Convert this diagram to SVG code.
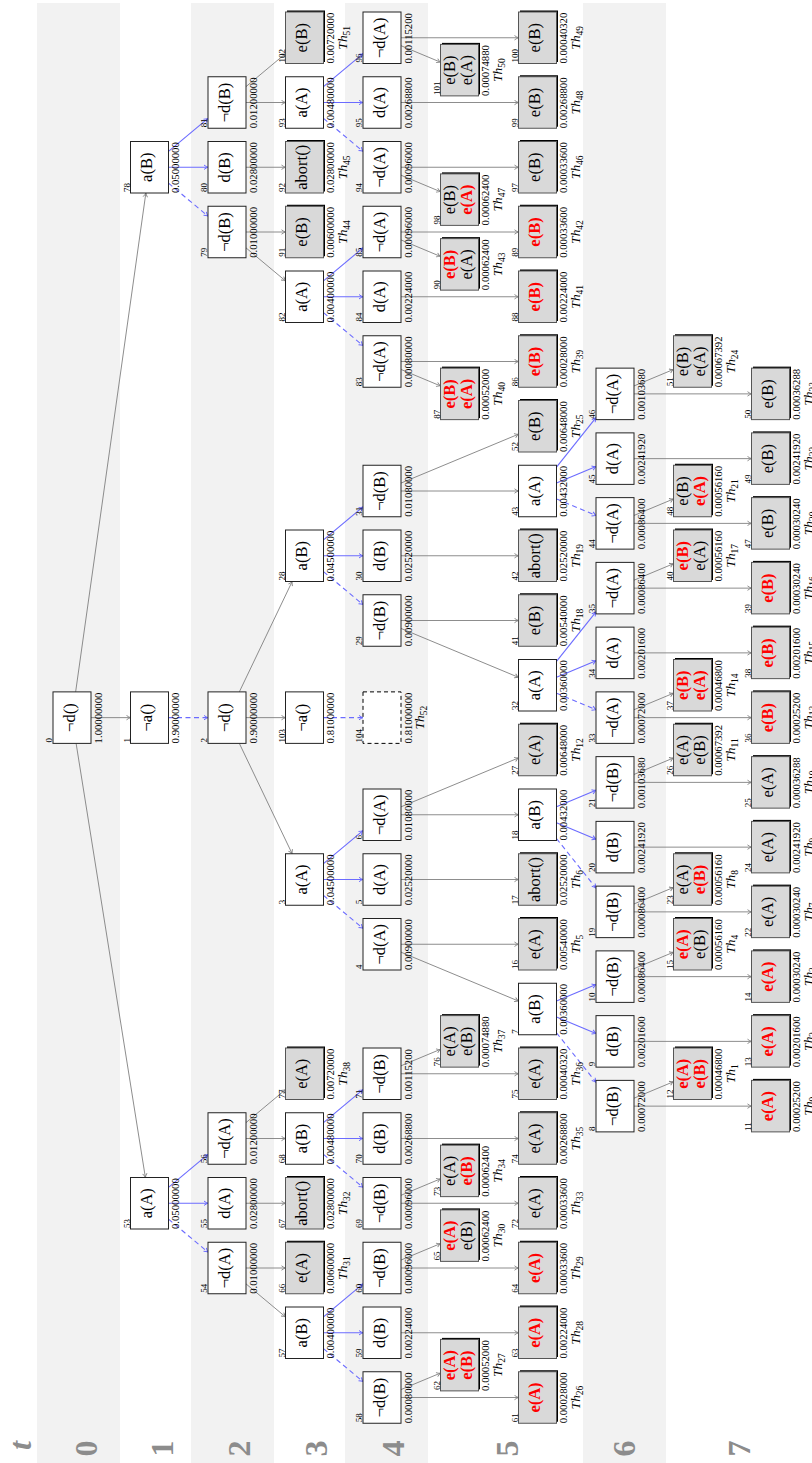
<svg xmlns="http://www.w3.org/2000/svg" width="812" height="1463" viewBox="0 0 812 1463">
<style>
.w{fill:#fff;stroke:#222;stroke-width:1}
.g{fill:#d9d9d9;stroke:#555;stroke-width:1}
.s{fill:#000}
.d{fill:#fff;stroke:#000;stroke-width:1;stroke-dasharray:4 3}
text{font-family:"Liberation Serif","Times New Roman",serif;fill:#000}
.lb{font-size:16.5px;text-anchor:middle}
.rd{fill:#f00;font-weight:bold}
.nm{font-size:9px}
.vl{font-size:10.7px}
.th{font-size:13.5px;font-style:italic;text-anchor:middle}
.sb{font-size:9.5px;font-style:normal}
.lv{font-size:32px;font-weight:bold;fill:#8c8c8c;text-anchor:middle}
.eg{stroke:#808080;stroke-width:0.9;fill:none;marker-end:url(#ag)}
.eb{stroke:#6b6bff;stroke-width:1.1;fill:none;marker-end:url(#ab)}
.ed{stroke-dasharray:5 3.5}
.band{fill:#f2f2f2}
</style>
<defs>
<marker id="ag" viewBox="-5 -3 6 6" refX="0" refY="0" markerWidth="6" markerHeight="6" markerUnits="userSpaceOnUse" orient="auto"><path d="M-4,-2.2 Q-1.5,-0.4 0,0 Q-1.5,0.4 -4,2.2" fill="none" stroke="#808080" stroke-width="0.9"/></marker>
<marker id="ab" viewBox="-5 -3 6 6" refX="0" refY="0" markerWidth="6" markerHeight="6" markerUnits="userSpaceOnUse" orient="auto"><path d="M-4,-2.2 Q-1.5,-0.4 0,0 Q-1.5,0.4 -4,2.2" fill="none" stroke="#6b6bff" stroke-width="1"/></marker>
</defs>
<rect width="812" height="1463" fill="#fff"/>
<g id="bands">
<rect class="band" x="37" y="3" width="83" height="1460"/>
<rect class="band" x="191" y="3" width="83" height="1460"/>
<rect class="band" x="345" y="3" width="83" height="1460"/>
<rect class="band" x="583" y="3" width="83" height="1460"/>
</g>
<g id="levels">
<text class="lv" font-style="italic" transform="translate(31,1445.5) rotate(-90)">t</text>
<text class="lv" transform="translate(96.5,1448.5) rotate(-90)">0</text>
<text class="lv" transform="translate(172.5,1448.5) rotate(-90)">1</text>
<text class="lv" transform="translate(250,1448.5) rotate(-90)">2</text>
<text class="lv" transform="translate(326.5,1448.5) rotate(-90)">3</text>
<text class="lv" transform="translate(403.5,1448.5) rotate(-90)">4</text>
<text class="lv" transform="translate(517.5,1448.5) rotate(-90)">5</text>
<text class="lv" transform="translate(634.5,1448.5) rotate(-90)">6</text>
<text class="lv" transform="translate(749.5,1448.5) rotate(-90)">7</text>
</g>
<g id="connectors">
<line class="eg" x1="75.63" y1="691.88" x2="145.87" y2="193"/>
<line class="eg" x1="91" y1="717.63" x2="130.5" y2="717.63"/>
<line class="eg" x1="76.11" y1="743.38" x2="145.39" y2="1177.5"/>
<line class="eg" x1="246" y1="86.63" x2="285.5" y2="53.62"/>
<line class="eg" x1="246" y1="102.5" x2="285.5" y2="102.5"/>
<line class="eg" x1="246" y1="167.25" x2="285.5" y2="167.25"/>
<line class="eg" x1="246" y1="232" x2="285.5" y2="232"/>
<line class="eg" x1="246" y1="247.87" x2="285.5" y2="280.88"/>
<line class="eg" x1="239.33" y1="691.88" x2="292.17" y2="581.5"/>
<line class="eg" x1="246" y1="717.63" x2="285.5" y2="717.63"/>
<line class="eg" x1="239.33" y1="743.38" x2="292.17" y2="853.75"/>
<line class="eg" x1="246" y1="1122.63" x2="285.5" y2="1089.62"/>
<line class="eg" x1="246" y1="1138.5" x2="285.5" y2="1138.5"/>
<line class="eg" x1="246" y1="1203.25" x2="285.5" y2="1203.25"/>
<line class="eg" x1="246" y1="1268" x2="285.5" y2="1268"/>
<line class="eg" x1="246" y1="1283.87" x2="285.5" y2="1316.88"/>
<line class="eg" x1="401" y1="37.75" x2="518.5" y2="37.75"/>
<line class="eg" x1="401" y1="45.69" x2="440.5" y2="62.19"/>
<line class="eg" x1="401" y1="102.5" x2="518.5" y2="102.5"/>
<line class="eg" x1="401" y1="167.25" x2="518.5" y2="167.25"/>
<line class="eg" x1="401" y1="175.19" x2="440.5" y2="191.69"/>
<line class="eg" x1="401" y1="232" x2="518.5" y2="232"/>
<line class="eg" x1="401" y1="239.94" x2="440.5" y2="256.44"/>
<line class="eg" x1="401" y1="296.75" x2="518.5" y2="296.75"/>
<line class="eg" x1="401" y1="361.5" x2="518.5" y2="361.5"/>
<line class="eg" x1="401" y1="369.44" x2="440.5" y2="385.94"/>
<line class="eg" x1="401" y1="483.09" x2="518.5" y2="434.16"/>
<line class="eg" x1="401" y1="491" x2="518.5" y2="491"/>
<line class="eg" x1="401" y1="555.75" x2="518.5" y2="555.75"/>
<line class="eg" x1="401" y1="620.5" x2="518.5" y2="620.5"/>
<line class="eg" x1="401" y1="628.41" x2="518.5" y2="677.34"/>
<line class="eg" x1="401" y1="806.84" x2="518.5" y2="757.91"/>
<line class="eg" x1="401" y1="814.75" x2="518.5" y2="814.75"/>
<line class="eg" x1="401" y1="879.5" x2="518.5" y2="879.5"/>
<line class="eg" x1="401" y1="944.25" x2="518.5" y2="944.25"/>
<line class="eg" x1="401" y1="952.16" x2="518.5" y2="1001.09"/>
<line class="eg" x1="401" y1="1073.75" x2="518.5" y2="1073.75"/>
<line class="eg" x1="401" y1="1065.81" x2="440.5" y2="1049.31"/>
<line class="eg" x1="401" y1="1138.5" x2="518.5" y2="1138.5"/>
<line class="eg" x1="401" y1="1203.25" x2="518.5" y2="1203.25"/>
<line class="eg" x1="401" y1="1195.31" x2="440.5" y2="1178.81"/>
<line class="eg" x1="401" y1="1268" x2="518.5" y2="1268"/>
<line class="eg" x1="401" y1="1260.06" x2="440.5" y2="1243.56"/>
<line class="eg" x1="401" y1="1332.75" x2="518.5" y2="1332.75"/>
<line class="eg" x1="401" y1="1397.5" x2="518.5" y2="1397.5"/>
<line class="eg" x1="401" y1="1389.56" x2="440.5" y2="1373.06"/>
<line class="eg" x1="634" y1="385.94" x2="673.5" y2="369.44"/>
<line class="eg" x1="634" y1="393.88" x2="751.5" y2="393.88"/>
<line class="eg" x1="634" y1="458.63" x2="751.5" y2="458.63"/>
<line class="eg" x1="634" y1="515.44" x2="673.5" y2="498.94"/>
<line class="eg" x1="634" y1="523.38" x2="751.5" y2="523.38"/>
<line class="eg" x1="634" y1="580.19" x2="673.5" y2="563.69"/>
<line class="eg" x1="634" y1="588.13" x2="751.5" y2="588.13"/>
<line class="eg" x1="634" y1="652.88" x2="751.5" y2="652.88"/>
<line class="eg" x1="634" y1="709.69" x2="673.5" y2="693.19"/>
<line class="eg" x1="634" y1="717.63" x2="751.5" y2="717.63"/>
<line class="eg" x1="634" y1="774.44" x2="673.5" y2="757.94"/>
<line class="eg" x1="634" y1="782.38" x2="751.5" y2="782.38"/>
<line class="eg" x1="634" y1="847.13" x2="751.5" y2="847.13"/>
<line class="eg" x1="634" y1="903.94" x2="673.5" y2="887.44"/>
<line class="eg" x1="634" y1="911.88" x2="751.5" y2="911.88"/>
<line class="eg" x1="634" y1="968.69" x2="673.5" y2="952.19"/>
<line class="eg" x1="634" y1="976.63" x2="751.5" y2="976.63"/>
<line class="eg" x1="634" y1="1041.38" x2="751.5" y2="1041.38"/>
<line class="eg" x1="634" y1="1098.19" x2="673.5" y2="1081.69"/>
<line class="eg" x1="634" y1="1106.13" x2="751.5" y2="1106.13"/>
<line class="eb" x1="168.5" y1="151.38" x2="208" y2="118.37"/>
<line class="eb" x1="168.5" y1="167.25" x2="208" y2="167.25"/>
<line class="eb" x1="168.5" y1="1187.38" x2="208" y2="1154.37"/>
<line class="eb" x1="168.5" y1="1203.25" x2="208" y2="1203.25"/>
<line class="eb" x1="323.5" y1="86.63" x2="363" y2="53.62"/>
<line class="eb" x1="323.5" y1="102.5" x2="363" y2="102.5"/>
<line class="eb" x1="323.5" y1="280.88" x2="363" y2="247.87"/>
<line class="eb" x1="323.5" y1="296.75" x2="363" y2="296.75"/>
<line class="eb" x1="323.5" y1="539.88" x2="363" y2="506.87"/>
<line class="eb" x1="323.5" y1="555.75" x2="363" y2="555.75"/>
<line class="eb" x1="323.5" y1="863.63" x2="363" y2="830.62"/>
<line class="eb" x1="323.5" y1="879.5" x2="363" y2="879.5"/>
<line class="eb" x1="323.5" y1="1122.63" x2="363" y2="1089.62"/>
<line class="eb" x1="323.5" y1="1138.5" x2="363" y2="1138.5"/>
<line class="eb" x1="323.5" y1="1316.88" x2="363" y2="1283.87"/>
<line class="eb" x1="323.5" y1="1332.75" x2="363" y2="1332.75"/>
<line class="eb" x1="556.5" y1="467.19" x2="596" y2="417.69"/>
<line class="eb" x1="556.5" y1="483.06" x2="596" y2="466.56"/>
<line class="eb" x1="556.5" y1="661.44" x2="596" y2="611.94"/>
<line class="eb" x1="556.5" y1="677.31" x2="596" y2="660.81"/>
<line class="eb" x1="556.5" y1="806.81" x2="596" y2="790.31"/>
<line class="eb" x1="556.5" y1="822.69" x2="596" y2="839.19"/>
<line class="eb" x1="556.5" y1="1001.06" x2="596" y2="984.56"/>
<line class="eb" x1="556.5" y1="1016.94" x2="596" y2="1033.44"/>
<line class="eb ed" x1="168.5" y1="717.63" x2="208" y2="717.63"/>
<line class="eb ed" x1="168.5" y1="183.12" x2="208" y2="216.13"/>
<line class="eb ed" x1="168.5" y1="1219.12" x2="208" y2="1252.13"/>
<line class="eb ed" x1="323.5" y1="118.37" x2="363" y2="151.38"/>
<line class="eb ed" x1="323.5" y1="312.62" x2="363" y2="345.63"/>
<line class="eb ed" x1="323.5" y1="571.62" x2="363" y2="604.63"/>
<line class="eb ed" x1="323.5" y1="717.63" x2="363" y2="717.63"/>
<line class="eb ed" x1="323.5" y1="895.37" x2="363" y2="928.38"/>
<line class="eb ed" x1="323.5" y1="1154.37" x2="363" y2="1187.38"/>
<line class="eb ed" x1="323.5" y1="1348.62" x2="363" y2="1381.63"/>
<line class="eb ed" x1="556.5" y1="498.94" x2="596" y2="515.44"/>
<line class="eb ed" x1="556.5" y1="693.19" x2="596" y2="709.69"/>
<line class="eb ed" x1="556.5" y1="838.56" x2="596" y2="888.06"/>
<line class="eb ed" x1="556.5" y1="1032.81" x2="596" y2="1082.31"/>
</g>
<g id="nodes">
<g id="n0"><rect class="w" x="53" y="691.88" width="38" height="51.5"/><text class="lb" transform="translate(74.5,717.63) rotate(-90)">¬d()</text><text class="nm" transform="translate(52,742.38) rotate(-90)">0</text><text class="vl" transform="translate(101.5,743.38) rotate(-90)">1.00000000</text></g>
<g id="n78"><rect class="w" x="130.5" y="141.5" width="38" height="51.5"/><text class="lb" transform="translate(152,167.25) rotate(-90)">a(B)</text><text class="nm" transform="translate(129.5,192) rotate(-90)">78</text><text class="vl" transform="translate(179,193) rotate(-90)">0.05000000</text></g>
<g id="n1"><rect class="w" x="130.5" y="691.88" width="38" height="51.5"/><text class="lb" transform="translate(152,717.63) rotate(-90)">¬a()</text><text class="nm" transform="translate(129.5,742.38) rotate(-90)">1</text><text class="vl" transform="translate(179,743.38) rotate(-90)">0.90000000</text></g>
<g id="n53"><rect class="w" x="130.5" y="1177.5" width="38" height="51.5"/><text class="lb" transform="translate(152,1203.25) rotate(-90)">a(A)</text><text class="nm" transform="translate(129.5,1228) rotate(-90)">53</text><text class="vl" transform="translate(179,1229) rotate(-90)">0.05000000</text></g>
<g id="n81"><rect class="w" x="208" y="76.75" width="38" height="51.5"/><text class="lb" transform="translate(229.5,102.5) rotate(-90)">¬d(B)</text><text class="nm" transform="translate(207,127.25) rotate(-90)">81</text><text class="vl" transform="translate(256.5,128.25) rotate(-90)">0.01200000</text></g>
<g id="n80"><rect class="w" x="208" y="141.5" width="38" height="51.5"/><text class="lb" transform="translate(229.5,167.25) rotate(-90)">d(B)</text><text class="nm" transform="translate(207,192) rotate(-90)">80</text><text class="vl" transform="translate(256.5,193) rotate(-90)">0.02800000</text></g>
<g id="n79"><rect class="w" x="208" y="206.25" width="38" height="51.5"/><text class="lb" transform="translate(229.5,232) rotate(-90)">¬d(B)</text><text class="nm" transform="translate(207,256.75) rotate(-90)">79</text><text class="vl" transform="translate(256.5,257.75) rotate(-90)">0.01000000</text></g>
<g id="n2"><rect class="w" x="208" y="691.88" width="38" height="51.5"/><text class="lb" transform="translate(229.5,717.63) rotate(-90)">¬d()</text><text class="nm" transform="translate(207,742.38) rotate(-90)">2</text><text class="vl" transform="translate(256.5,743.38) rotate(-90)">0.90000000</text></g>
<g id="n56"><rect class="w" x="208" y="1112.75" width="38" height="51.5"/><text class="lb" transform="translate(229.5,1138.5) rotate(-90)">¬d(A)</text><text class="nm" transform="translate(207,1163.25) rotate(-90)">56</text><text class="vl" transform="translate(256.5,1164.25) rotate(-90)">0.01200000</text></g>
<g id="n55"><rect class="w" x="208" y="1177.5" width="38" height="51.5"/><text class="lb" transform="translate(229.5,1203.25) rotate(-90)">d(A)</text><text class="nm" transform="translate(207,1228) rotate(-90)">55</text><text class="vl" transform="translate(256.5,1229) rotate(-90)">0.02800000</text></g>
<g id="n54"><rect class="w" x="208" y="1242.25" width="38" height="51.5"/><text class="lb" transform="translate(229.5,1268) rotate(-90)">¬d(A)</text><text class="nm" transform="translate(207,1292.75) rotate(-90)">54</text><text class="vl" transform="translate(256.5,1293.75) rotate(-90)">0.01000000</text></g>
<g id="n102"><rect class="s" x="287" y="10.5" width="38" height="51.5"/><rect class="g" x="285.5" y="12" width="38" height="51.5"/><text class="lb" transform="translate(307,37.75) rotate(-90)">e(B)</text><text class="nm" transform="translate(284.5,62.5) rotate(-90)">102</text><text class="vl" transform="translate(334,63.5) rotate(-90)">0.00720000</text><text class="th" transform="translate(346.5,37.75) rotate(-90)">Th<tspan class="sb" dy="3">51</tspan></text></g>
<g id="n93"><rect class="w" x="285.5" y="76.75" width="38" height="51.5"/><text class="lb" transform="translate(307,102.5) rotate(-90)">a(A)</text><text class="nm" transform="translate(284.5,127.25) rotate(-90)">93</text><text class="vl" transform="translate(334,128.25) rotate(-90)">0.00480000</text></g>
<g id="n92"><rect class="s" x="287" y="140" width="38" height="51.5"/><rect class="g" x="285.5" y="141.5" width="38" height="51.5"/><text class="lb" transform="translate(307,167.25) rotate(-90)">abort()</text><text class="nm" transform="translate(284.5,192) rotate(-90)">92</text><text class="vl" transform="translate(334,193) rotate(-90)">0.02800000</text><text class="th" transform="translate(346.5,167.25) rotate(-90)">Th<tspan class="sb" dy="3">45</tspan></text></g>
<g id="n91"><rect class="s" x="287" y="204.75" width="38" height="51.5"/><rect class="g" x="285.5" y="206.25" width="38" height="51.5"/><text class="lb" transform="translate(307,232) rotate(-90)">e(B)</text><text class="nm" transform="translate(284.5,256.75) rotate(-90)">91</text><text class="vl" transform="translate(334,257.75) rotate(-90)">0.00600000</text><text class="th" transform="translate(346.5,232) rotate(-90)">Th<tspan class="sb" dy="3">44</tspan></text></g>
<g id="n82"><rect class="w" x="285.5" y="271" width="38" height="51.5"/><text class="lb" transform="translate(307,296.75) rotate(-90)">a(A)</text><text class="nm" transform="translate(284.5,321.5) rotate(-90)">82</text><text class="vl" transform="translate(334,322.5) rotate(-90)">0.00400000</text></g>
<g id="n28"><rect class="w" x="285.5" y="530" width="38" height="51.5"/><text class="lb" transform="translate(307,555.75) rotate(-90)">a(B)</text><text class="nm" transform="translate(284.5,580.5) rotate(-90)">28</text><text class="vl" transform="translate(334,581.5) rotate(-90)">0.04500000</text></g>
<g id="n103"><rect class="w" x="285.5" y="691.88" width="38" height="51.5"/><text class="lb" transform="translate(307,717.63) rotate(-90)">¬a()</text><text class="nm" transform="translate(284.5,742.38) rotate(-90)">103</text><text class="vl" transform="translate(334,743.38) rotate(-90)">0.81000000</text></g>
<g id="n3"><rect class="w" x="285.5" y="853.75" width="38" height="51.5"/><text class="lb" transform="translate(307,879.5) rotate(-90)">a(A)</text><text class="nm" transform="translate(284.5,904.25) rotate(-90)">3</text><text class="vl" transform="translate(334,905.25) rotate(-90)">0.04500000</text></g>
<g id="n77"><rect class="s" x="287" y="1046.5" width="38" height="51.5"/><rect class="g" x="285.5" y="1048" width="38" height="51.5"/><text class="lb" transform="translate(307,1073.75) rotate(-90)">e(A)</text><text class="nm" transform="translate(284.5,1098.5) rotate(-90)">77</text><text class="vl" transform="translate(334,1099.5) rotate(-90)">0.00720000</text><text class="th" transform="translate(346.5,1073.75) rotate(-90)">Th<tspan class="sb" dy="3">38</tspan></text></g>
<g id="n68"><rect class="w" x="285.5" y="1112.75" width="38" height="51.5"/><text class="lb" transform="translate(307,1138.5) rotate(-90)">a(B)</text><text class="nm" transform="translate(284.5,1163.25) rotate(-90)">68</text><text class="vl" transform="translate(334,1164.25) rotate(-90)">0.00480000</text></g>
<g id="n67"><rect class="s" x="287" y="1176" width="38" height="51.5"/><rect class="g" x="285.5" y="1177.5" width="38" height="51.5"/><text class="lb" transform="translate(307,1203.25) rotate(-90)">abort()</text><text class="nm" transform="translate(284.5,1228) rotate(-90)">67</text><text class="vl" transform="translate(334,1229) rotate(-90)">0.02800000</text><text class="th" transform="translate(346.5,1203.25) rotate(-90)">Th<tspan class="sb" dy="3">32</tspan></text></g>
<g id="n66"><rect class="s" x="287" y="1240.75" width="38" height="51.5"/><rect class="g" x="285.5" y="1242.25" width="38" height="51.5"/><text class="lb" transform="translate(307,1268) rotate(-90)">e(A)</text><text class="nm" transform="translate(284.5,1292.75) rotate(-90)">66</text><text class="vl" transform="translate(334,1293.75) rotate(-90)">0.00600000</text><text class="th" transform="translate(346.5,1268) rotate(-90)">Th<tspan class="sb" dy="3">31</tspan></text></g>
<g id="n57"><rect class="w" x="285.5" y="1307" width="38" height="51.5"/><text class="lb" transform="translate(307,1332.75) rotate(-90)">a(B)</text><text class="nm" transform="translate(284.5,1357.5) rotate(-90)">57</text><text class="vl" transform="translate(334,1358.5) rotate(-90)">0.00400000</text></g>
<g id="n96"><rect class="w" x="363" y="12" width="38" height="51.5"/><text class="lb" transform="translate(384.5,37.75) rotate(-90)">¬d(A)</text><text class="nm" transform="translate(362,62.5) rotate(-90)">96</text><text class="vl" transform="translate(411.5,63.5) rotate(-90)">0.00115200</text></g>
<g id="n95"><rect class="w" x="363" y="76.75" width="38" height="51.5"/><text class="lb" transform="translate(384.5,102.5) rotate(-90)">d(A)</text><text class="nm" transform="translate(362,127.25) rotate(-90)">95</text><text class="vl" transform="translate(411.5,128.25) rotate(-90)">0.00268800</text></g>
<g id="n94"><rect class="w" x="363" y="141.5" width="38" height="51.5"/><text class="lb" transform="translate(384.5,167.25) rotate(-90)">¬d(A)</text><text class="nm" transform="translate(362,192) rotate(-90)">94</text><text class="vl" transform="translate(411.5,193) rotate(-90)">0.00096000</text></g>
<g id="n85"><rect class="w" x="363" y="206.25" width="38" height="51.5"/><text class="lb" transform="translate(384.5,232) rotate(-90)">¬d(A)</text><text class="nm" transform="translate(362,256.75) rotate(-90)">85</text><text class="vl" transform="translate(411.5,257.75) rotate(-90)">0.00096000</text></g>
<g id="n84"><rect class="w" x="363" y="271" width="38" height="51.5"/><text class="lb" transform="translate(384.5,296.75) rotate(-90)">d(A)</text><text class="nm" transform="translate(362,321.5) rotate(-90)">84</text><text class="vl" transform="translate(411.5,322.5) rotate(-90)">0.00224000</text></g>
<g id="n83"><rect class="w" x="363" y="335.75" width="38" height="51.5"/><text class="lb" transform="translate(384.5,361.5) rotate(-90)">¬d(A)</text><text class="nm" transform="translate(362,386.25) rotate(-90)">83</text><text class="vl" transform="translate(411.5,387.25) rotate(-90)">0.00080000</text></g>
<g id="n31"><rect class="w" x="363" y="465.25" width="38" height="51.5"/><text class="lb" transform="translate(384.5,491) rotate(-90)">¬d(B)</text><text class="nm" transform="translate(362,515.75) rotate(-90)">31</text><text class="vl" transform="translate(411.5,516.75) rotate(-90)">0.01080000</text></g>
<g id="n30"><rect class="w" x="363" y="530" width="38" height="51.5"/><text class="lb" transform="translate(384.5,555.75) rotate(-90)">d(B)</text><text class="nm" transform="translate(362,580.5) rotate(-90)">30</text><text class="vl" transform="translate(411.5,581.5) rotate(-90)">0.02520000</text></g>
<g id="n29"><rect class="w" x="363" y="594.75" width="38" height="51.5"/><text class="lb" transform="translate(384.5,620.5) rotate(-90)">¬d(B)</text><text class="nm" transform="translate(362,645.25) rotate(-90)">29</text><text class="vl" transform="translate(411.5,646.25) rotate(-90)">0.00900000</text></g>
<g id="n104"><rect class="d" x="363" y="691.88" width="38" height="51.5"/><text class="nm" transform="translate(362,742.38) rotate(-90)">104</text><text class="vl" transform="translate(411.5,743.38) rotate(-90)">0.81000000</text><text class="th" transform="translate(424,717.63) rotate(-90)">Th<tspan class="sb" dy="3">52</tspan></text></g>
<g id="n6"><rect class="w" x="363" y="789" width="38" height="51.5"/><text class="lb" transform="translate(384.5,814.75) rotate(-90)">¬d(A)</text><text class="nm" transform="translate(362,839.5) rotate(-90)">6</text><text class="vl" transform="translate(411.5,840.5) rotate(-90)">0.01080000</text></g>
<g id="n5"><rect class="w" x="363" y="853.75" width="38" height="51.5"/><text class="lb" transform="translate(384.5,879.5) rotate(-90)">d(A)</text><text class="nm" transform="translate(362,904.25) rotate(-90)">5</text><text class="vl" transform="translate(411.5,905.25) rotate(-90)">0.02520000</text></g>
<g id="n4"><rect class="w" x="363" y="918.5" width="38" height="51.5"/><text class="lb" transform="translate(384.5,944.25) rotate(-90)">¬d(A)</text><text class="nm" transform="translate(362,969) rotate(-90)">4</text><text class="vl" transform="translate(411.5,970) rotate(-90)">0.00900000</text></g>
<g id="n71"><rect class="w" x="363" y="1048" width="38" height="51.5"/><text class="lb" transform="translate(384.5,1073.75) rotate(-90)">¬d(B)</text><text class="nm" transform="translate(362,1098.5) rotate(-90)">71</text><text class="vl" transform="translate(411.5,1099.5) rotate(-90)">0.00115200</text></g>
<g id="n70"><rect class="w" x="363" y="1112.75" width="38" height="51.5"/><text class="lb" transform="translate(384.5,1138.5) rotate(-90)">d(B)</text><text class="nm" transform="translate(362,1163.25) rotate(-90)">70</text><text class="vl" transform="translate(411.5,1164.25) rotate(-90)">0.00268800</text></g>
<g id="n69"><rect class="w" x="363" y="1177.5" width="38" height="51.5"/><text class="lb" transform="translate(384.5,1203.25) rotate(-90)">¬d(B)</text><text class="nm" transform="translate(362,1228) rotate(-90)">69</text><text class="vl" transform="translate(411.5,1229) rotate(-90)">0.00096000</text></g>
<g id="n60"><rect class="w" x="363" y="1242.25" width="38" height="51.5"/><text class="lb" transform="translate(384.5,1268) rotate(-90)">¬d(B)</text><text class="nm" transform="translate(362,1292.75) rotate(-90)">60</text><text class="vl" transform="translate(411.5,1293.75) rotate(-90)">0.00096000</text></g>
<g id="n59"><rect class="w" x="363" y="1307" width="38" height="51.5"/><text class="lb" transform="translate(384.5,1332.75) rotate(-90)">d(B)</text><text class="nm" transform="translate(362,1357.5) rotate(-90)">59</text><text class="vl" transform="translate(411.5,1358.5) rotate(-90)">0.00224000</text></g>
<g id="n58"><rect class="w" x="363" y="1371.75" width="38" height="51.5"/><text class="lb" transform="translate(384.5,1397.5) rotate(-90)">¬d(B)</text><text class="nm" transform="translate(362,1422.25) rotate(-90)">58</text><text class="vl" transform="translate(411.5,1423.25) rotate(-90)">0.00080000</text></g>
<g id="n101"><rect class="s" x="442" y="42.88" width="38" height="51.5"/><rect class="g" x="440.5" y="44.38" width="38" height="51.5"/><text class="lb" transform="translate(455,70.13) rotate(-90)">e(B)</text><text class="lb" transform="translate(471.5,70.13) rotate(-90)">e(A)</text><text class="nm" transform="translate(439.5,94.88) rotate(-90)">101</text><text class="vl" transform="translate(489,95.88) rotate(-90)">0.00074880</text><text class="th" transform="translate(501.5,70.13) rotate(-90)">Th<tspan class="sb" dy="3">50</tspan></text></g>
<g id="n98"><rect class="s" x="442" y="172.38" width="38" height="51.5"/><rect class="g" x="440.5" y="173.88" width="38" height="51.5"/><text class="lb" transform="translate(455,199.63) rotate(-90)">e(B)</text><text class="lb rd" transform="translate(471.5,199.63) rotate(-90)">e(A)</text><text class="nm" transform="translate(439.5,224.38) rotate(-90)">98</text><text class="vl" transform="translate(489,225.38) rotate(-90)">0.00062400</text><text class="th" transform="translate(501.5,199.63) rotate(-90)">Th<tspan class="sb" dy="3">47</tspan></text></g>
<g id="n90"><rect class="s" x="442" y="237.13" width="38" height="51.5"/><rect class="g" x="440.5" y="238.63" width="38" height="51.5"/><text class="lb rd" transform="translate(455,264.38) rotate(-90)">e(B)</text><text class="lb" transform="translate(471.5,264.38) rotate(-90)">e(A)</text><text class="nm" transform="translate(439.5,289.13) rotate(-90)">90</text><text class="vl" transform="translate(489,290.13) rotate(-90)">0.00062400</text><text class="th" transform="translate(501.5,264.38) rotate(-90)">Th<tspan class="sb" dy="3">43</tspan></text></g>
<g id="n87"><rect class="s" x="442" y="366.63" width="38" height="51.5"/><rect class="g" x="440.5" y="368.13" width="38" height="51.5"/><text class="lb rd" transform="translate(455,393.88) rotate(-90)">e(B)</text><text class="lb rd" transform="translate(471.5,393.88) rotate(-90)">e(A)</text><text class="nm" transform="translate(439.5,418.63) rotate(-90)">87</text><text class="vl" transform="translate(489,419.63) rotate(-90)">0.00052000</text><text class="th" transform="translate(501.5,393.88) rotate(-90)">Th<tspan class="sb" dy="3">40</tspan></text></g>
<g id="n76"><rect class="s" x="442" y="1014.13" width="38" height="51.5"/><rect class="g" x="440.5" y="1015.63" width="38" height="51.5"/><text class="lb" transform="translate(455,1041.38) rotate(-90)">e(A)</text><text class="lb" transform="translate(471.5,1041.38) rotate(-90)">e(B)</text><text class="nm" transform="translate(439.5,1066.13) rotate(-90)">76</text><text class="vl" transform="translate(489,1067.13) rotate(-90)">0.00074880</text><text class="th" transform="translate(501.5,1041.38) rotate(-90)">Th<tspan class="sb" dy="3">37</tspan></text></g>
<g id="n73"><rect class="s" x="442" y="1143.63" width="38" height="51.5"/><rect class="g" x="440.5" y="1145.13" width="38" height="51.5"/><text class="lb" transform="translate(455,1170.88) rotate(-90)">e(A)</text><text class="lb rd" transform="translate(471.5,1170.88) rotate(-90)">e(B)</text><text class="nm" transform="translate(439.5,1195.63) rotate(-90)">73</text><text class="vl" transform="translate(489,1196.63) rotate(-90)">0.00062400</text><text class="th" transform="translate(501.5,1170.88) rotate(-90)">Th<tspan class="sb" dy="3">34</tspan></text></g>
<g id="n65"><rect class="s" x="442" y="1208.38" width="38" height="51.5"/><rect class="g" x="440.5" y="1209.88" width="38" height="51.5"/><text class="lb rd" transform="translate(455,1235.63) rotate(-90)">e(A)</text><text class="lb" transform="translate(471.5,1235.63) rotate(-90)">e(B)</text><text class="nm" transform="translate(439.5,1260.38) rotate(-90)">65</text><text class="vl" transform="translate(489,1261.38) rotate(-90)">0.00062400</text><text class="th" transform="translate(501.5,1235.63) rotate(-90)">Th<tspan class="sb" dy="3">30</tspan></text></g>
<g id="n62"><rect class="s" x="442" y="1337.88" width="38" height="51.5"/><rect class="g" x="440.5" y="1339.38" width="38" height="51.5"/><text class="lb rd" transform="translate(455,1365.13) rotate(-90)">e(A)</text><text class="lb rd" transform="translate(471.5,1365.13) rotate(-90)">e(B)</text><text class="nm" transform="translate(439.5,1389.88) rotate(-90)">62</text><text class="vl" transform="translate(489,1390.88) rotate(-90)">0.00052000</text><text class="th" transform="translate(501.5,1365.13) rotate(-90)">Th<tspan class="sb" dy="3">27</tspan></text></g>
<g id="n100"><rect class="s" x="520" y="10.5" width="38" height="51.5"/><rect class="g" x="518.5" y="12" width="38" height="51.5"/><text class="lb" transform="translate(540,37.75) rotate(-90)">e(B)</text><text class="nm" transform="translate(517.5,62.5) rotate(-90)">100</text><text class="vl" transform="translate(567,63.5) rotate(-90)">0.00040320</text><text class="th" transform="translate(579.5,37.75) rotate(-90)">Th<tspan class="sb" dy="3">49</tspan></text></g>
<g id="n99"><rect class="s" x="520" y="75.25" width="38" height="51.5"/><rect class="g" x="518.5" y="76.75" width="38" height="51.5"/><text class="lb" transform="translate(540,102.5) rotate(-90)">e(B)</text><text class="nm" transform="translate(517.5,127.25) rotate(-90)">99</text><text class="vl" transform="translate(567,128.25) rotate(-90)">0.00268800</text><text class="th" transform="translate(579.5,102.5) rotate(-90)">Th<tspan class="sb" dy="3">48</tspan></text></g>
<g id="n97"><rect class="s" x="520" y="140" width="38" height="51.5"/><rect class="g" x="518.5" y="141.5" width="38" height="51.5"/><text class="lb" transform="translate(540,167.25) rotate(-90)">e(B)</text><text class="nm" transform="translate(517.5,192) rotate(-90)">97</text><text class="vl" transform="translate(567,193) rotate(-90)">0.00033600</text><text class="th" transform="translate(579.5,167.25) rotate(-90)">Th<tspan class="sb" dy="3">46</tspan></text></g>
<g id="n89"><rect class="s" x="520" y="204.75" width="38" height="51.5"/><rect class="g" x="518.5" y="206.25" width="38" height="51.5"/><text class="lb rd" transform="translate(540,232) rotate(-90)">e(B)</text><text class="nm" transform="translate(517.5,256.75) rotate(-90)">89</text><text class="vl" transform="translate(567,257.75) rotate(-90)">0.00033600</text><text class="th" transform="translate(579.5,232) rotate(-90)">Th<tspan class="sb" dy="3">42</tspan></text></g>
<g id="n88"><rect class="s" x="520" y="269.5" width="38" height="51.5"/><rect class="g" x="518.5" y="271" width="38" height="51.5"/><text class="lb rd" transform="translate(540,296.75) rotate(-90)">e(B)</text><text class="nm" transform="translate(517.5,321.5) rotate(-90)">88</text><text class="vl" transform="translate(567,322.5) rotate(-90)">0.00224000</text><text class="th" transform="translate(579.5,296.75) rotate(-90)">Th<tspan class="sb" dy="3">41</tspan></text></g>
<g id="n86"><rect class="s" x="520" y="334.25" width="38" height="51.5"/><rect class="g" x="518.5" y="335.75" width="38" height="51.5"/><text class="lb rd" transform="translate(540,361.5) rotate(-90)">e(B)</text><text class="nm" transform="translate(517.5,386.25) rotate(-90)">86</text><text class="vl" transform="translate(567,387.25) rotate(-90)">0.00028000</text><text class="th" transform="translate(579.5,361.5) rotate(-90)">Th<tspan class="sb" dy="3">39</tspan></text></g>
<g id="n52"><rect class="s" x="520" y="399" width="38" height="51.5"/><rect class="g" x="518.5" y="400.5" width="38" height="51.5"/><text class="lb" transform="translate(540,426.25) rotate(-90)">e(B)</text><text class="nm" transform="translate(517.5,451) rotate(-90)">52</text><text class="vl" transform="translate(567,452) rotate(-90)">0.00648000</text><text class="th" transform="translate(579.5,426.25) rotate(-90)">Th<tspan class="sb" dy="3">25</tspan></text></g>
<g id="n43"><rect class="w" x="518.5" y="465.25" width="38" height="51.5"/><text class="lb" transform="translate(540,491) rotate(-90)">a(A)</text><text class="nm" transform="translate(517.5,515.75) rotate(-90)">43</text><text class="vl" transform="translate(567,516.75) rotate(-90)">0.00432000</text></g>
<g id="n42"><rect class="s" x="520" y="528.5" width="38" height="51.5"/><rect class="g" x="518.5" y="530" width="38" height="51.5"/><text class="lb" transform="translate(540,555.75) rotate(-90)">abort()</text><text class="nm" transform="translate(517.5,580.5) rotate(-90)">42</text><text class="vl" transform="translate(567,581.5) rotate(-90)">0.02520000</text><text class="th" transform="translate(579.5,555.75) rotate(-90)">Th<tspan class="sb" dy="3">19</tspan></text></g>
<g id="n41"><rect class="s" x="520" y="593.25" width="38" height="51.5"/><rect class="g" x="518.5" y="594.75" width="38" height="51.5"/><text class="lb" transform="translate(540,620.5) rotate(-90)">e(B)</text><text class="nm" transform="translate(517.5,645.25) rotate(-90)">41</text><text class="vl" transform="translate(567,646.25) rotate(-90)">0.00540000</text><text class="th" transform="translate(579.5,620.5) rotate(-90)">Th<tspan class="sb" dy="3">18</tspan></text></g>
<g id="n32"><rect class="w" x="518.5" y="659.5" width="38" height="51.5"/><text class="lb" transform="translate(540,685.25) rotate(-90)">a(A)</text><text class="nm" transform="translate(517.5,710) rotate(-90)">32</text><text class="vl" transform="translate(567,711) rotate(-90)">0.00360000</text></g>
<g id="n27"><rect class="s" x="520" y="722.75" width="38" height="51.5"/><rect class="g" x="518.5" y="724.25" width="38" height="51.5"/><text class="lb" transform="translate(540,750) rotate(-90)">e(A)</text><text class="nm" transform="translate(517.5,774.75) rotate(-90)">27</text><text class="vl" transform="translate(567,775.75) rotate(-90)">0.00648000</text><text class="th" transform="translate(579.5,750) rotate(-90)">Th<tspan class="sb" dy="3">12</tspan></text></g>
<g id="n18"><rect class="w" x="518.5" y="789" width="38" height="51.5"/><text class="lb" transform="translate(540,814.75) rotate(-90)">a(B)</text><text class="nm" transform="translate(517.5,839.5) rotate(-90)">18</text><text class="vl" transform="translate(567,840.5) rotate(-90)">0.00432000</text></g>
<g id="n17"><rect class="s" x="520" y="852.25" width="38" height="51.5"/><rect class="g" x="518.5" y="853.75" width="38" height="51.5"/><text class="lb" transform="translate(540,879.5) rotate(-90)">abort()</text><text class="nm" transform="translate(517.5,904.25) rotate(-90)">17</text><text class="vl" transform="translate(567,905.25) rotate(-90)">0.02520000</text><text class="th" transform="translate(579.5,879.5) rotate(-90)">Th<tspan class="sb" dy="3">6</tspan></text></g>
<g id="n16"><rect class="s" x="520" y="917" width="38" height="51.5"/><rect class="g" x="518.5" y="918.5" width="38" height="51.5"/><text class="lb" transform="translate(540,944.25) rotate(-90)">e(A)</text><text class="nm" transform="translate(517.5,969) rotate(-90)">16</text><text class="vl" transform="translate(567,970) rotate(-90)">0.00540000</text><text class="th" transform="translate(579.5,944.25) rotate(-90)">Th<tspan class="sb" dy="3">5</tspan></text></g>
<g id="n7"><rect class="w" x="518.5" y="983.25" width="38" height="51.5"/><text class="lb" transform="translate(540,1009) rotate(-90)">a(B)</text><text class="nm" transform="translate(517.5,1033.75) rotate(-90)">7</text><text class="vl" transform="translate(567,1034.75) rotate(-90)">0.00360000</text></g>
<g id="n75"><rect class="s" x="520" y="1046.5" width="38" height="51.5"/><rect class="g" x="518.5" y="1048" width="38" height="51.5"/><text class="lb" transform="translate(540,1073.75) rotate(-90)">e(A)</text><text class="nm" transform="translate(517.5,1098.5) rotate(-90)">75</text><text class="vl" transform="translate(567,1099.5) rotate(-90)">0.00040320</text><text class="th" transform="translate(579.5,1073.75) rotate(-90)">Th<tspan class="sb" dy="3">36</tspan></text></g>
<g id="n74"><rect class="s" x="520" y="1111.25" width="38" height="51.5"/><rect class="g" x="518.5" y="1112.75" width="38" height="51.5"/><text class="lb" transform="translate(540,1138.5) rotate(-90)">e(A)</text><text class="nm" transform="translate(517.5,1163.25) rotate(-90)">74</text><text class="vl" transform="translate(567,1164.25) rotate(-90)">0.00268800</text><text class="th" transform="translate(579.5,1138.5) rotate(-90)">Th<tspan class="sb" dy="3">35</tspan></text></g>
<g id="n72"><rect class="s" x="520" y="1176" width="38" height="51.5"/><rect class="g" x="518.5" y="1177.5" width="38" height="51.5"/><text class="lb" transform="translate(540,1203.25) rotate(-90)">e(A)</text><text class="nm" transform="translate(517.5,1228) rotate(-90)">72</text><text class="vl" transform="translate(567,1229) rotate(-90)">0.00033600</text><text class="th" transform="translate(579.5,1203.25) rotate(-90)">Th<tspan class="sb" dy="3">33</tspan></text></g>
<g id="n64"><rect class="s" x="520" y="1240.75" width="38" height="51.5"/><rect class="g" x="518.5" y="1242.25" width="38" height="51.5"/><text class="lb rd" transform="translate(540,1268) rotate(-90)">e(A)</text><text class="nm" transform="translate(517.5,1292.75) rotate(-90)">64</text><text class="vl" transform="translate(567,1293.75) rotate(-90)">0.00033600</text><text class="th" transform="translate(579.5,1268) rotate(-90)">Th<tspan class="sb" dy="3">29</tspan></text></g>
<g id="n63"><rect class="s" x="520" y="1305.5" width="38" height="51.5"/><rect class="g" x="518.5" y="1307" width="38" height="51.5"/><text class="lb rd" transform="translate(540,1332.75) rotate(-90)">e(A)</text><text class="nm" transform="translate(517.5,1357.5) rotate(-90)">63</text><text class="vl" transform="translate(567,1358.5) rotate(-90)">0.00224000</text><text class="th" transform="translate(579.5,1332.75) rotate(-90)">Th<tspan class="sb" dy="3">28</tspan></text></g>
<g id="n61"><rect class="s" x="520" y="1370.25" width="38" height="51.5"/><rect class="g" x="518.5" y="1371.75" width="38" height="51.5"/><text class="lb rd" transform="translate(540,1397.5) rotate(-90)">e(A)</text><text class="nm" transform="translate(517.5,1422.25) rotate(-90)">61</text><text class="vl" transform="translate(567,1423.25) rotate(-90)">0.00028000</text><text class="th" transform="translate(579.5,1397.5) rotate(-90)">Th<tspan class="sb" dy="3">26</tspan></text></g>
<g id="n46"><rect class="w" x="596" y="368.13" width="38" height="51.5"/><text class="lb" transform="translate(617.5,393.88) rotate(-90)">¬d(A)</text><text class="nm" transform="translate(595,418.63) rotate(-90)">46</text><text class="vl" transform="translate(644.5,419.63) rotate(-90)">0.00103680</text></g>
<g id="n45"><rect class="w" x="596" y="432.88" width="38" height="51.5"/><text class="lb" transform="translate(617.5,458.63) rotate(-90)">d(A)</text><text class="nm" transform="translate(595,483.38) rotate(-90)">45</text><text class="vl" transform="translate(644.5,484.38) rotate(-90)">0.00241920</text></g>
<g id="n44"><rect class="w" x="596" y="497.63" width="38" height="51.5"/><text class="lb" transform="translate(617.5,523.38) rotate(-90)">¬d(A)</text><text class="nm" transform="translate(595,548.13) rotate(-90)">44</text><text class="vl" transform="translate(644.5,549.13) rotate(-90)">0.00086400</text></g>
<g id="n35"><rect class="w" x="596" y="562.38" width="38" height="51.5"/><text class="lb" transform="translate(617.5,588.13) rotate(-90)">¬d(A)</text><text class="nm" transform="translate(595,612.88) rotate(-90)">35</text><text class="vl" transform="translate(644.5,613.88) rotate(-90)">0.00086400</text></g>
<g id="n34"><rect class="w" x="596" y="627.13" width="38" height="51.5"/><text class="lb" transform="translate(617.5,652.88) rotate(-90)">d(A)</text><text class="nm" transform="translate(595,677.63) rotate(-90)">34</text><text class="vl" transform="translate(644.5,678.63) rotate(-90)">0.00201600</text></g>
<g id="n33"><rect class="w" x="596" y="691.88" width="38" height="51.5"/><text class="lb" transform="translate(617.5,717.63) rotate(-90)">¬d(A)</text><text class="nm" transform="translate(595,742.38) rotate(-90)">33</text><text class="vl" transform="translate(644.5,743.38) rotate(-90)">0.00072000</text></g>
<g id="n21"><rect class="w" x="596" y="756.63" width="38" height="51.5"/><text class="lb" transform="translate(617.5,782.38) rotate(-90)">¬d(B)</text><text class="nm" transform="translate(595,807.13) rotate(-90)">21</text><text class="vl" transform="translate(644.5,808.13) rotate(-90)">0.00103680</text></g>
<g id="n20"><rect class="w" x="596" y="821.38" width="38" height="51.5"/><text class="lb" transform="translate(617.5,847.13) rotate(-90)">d(B)</text><text class="nm" transform="translate(595,871.88) rotate(-90)">20</text><text class="vl" transform="translate(644.5,872.88) rotate(-90)">0.00241920</text></g>
<g id="n19"><rect class="w" x="596" y="886.13" width="38" height="51.5"/><text class="lb" transform="translate(617.5,911.88) rotate(-90)">¬d(B)</text><text class="nm" transform="translate(595,936.63) rotate(-90)">19</text><text class="vl" transform="translate(644.5,937.63) rotate(-90)">0.00086400</text></g>
<g id="n10"><rect class="w" x="596" y="950.88" width="38" height="51.5"/><text class="lb" transform="translate(617.5,976.63) rotate(-90)">¬d(B)</text><text class="nm" transform="translate(595,1001.38) rotate(-90)">10</text><text class="vl" transform="translate(644.5,1002.38) rotate(-90)">0.00086400</text></g>
<g id="n9"><rect class="w" x="596" y="1015.63" width="38" height="51.5"/><text class="lb" transform="translate(617.5,1041.38) rotate(-90)">d(B)</text><text class="nm" transform="translate(595,1066.13) rotate(-90)">9</text><text class="vl" transform="translate(644.5,1067.13) rotate(-90)">0.00201600</text></g>
<g id="n8"><rect class="w" x="596" y="1080.38" width="38" height="51.5"/><text class="lb" transform="translate(617.5,1106.13) rotate(-90)">¬d(B)</text><text class="nm" transform="translate(595,1130.88) rotate(-90)">8</text><text class="vl" transform="translate(644.5,1131.88) rotate(-90)">0.00072000</text></g>
<g id="n51"><rect class="s" x="675" y="334.25" width="38" height="51.5"/><rect class="g" x="673.5" y="335.75" width="38" height="51.5"/><text class="lb" transform="translate(688,361.5) rotate(-90)">e(B)</text><text class="lb" transform="translate(704.5,361.5) rotate(-90)">e(A)</text><text class="nm" transform="translate(672.5,386.25) rotate(-90)">51</text><text class="vl" transform="translate(722,387.25) rotate(-90)">0.00067392</text><text class="th" transform="translate(734.5,361.5) rotate(-90)">Th<tspan class="sb" dy="3">24</tspan></text></g>
<g id="n48"><rect class="s" x="675" y="463.75" width="38" height="51.5"/><rect class="g" x="673.5" y="465.25" width="38" height="51.5"/><text class="lb" transform="translate(688,491) rotate(-90)">e(B)</text><text class="lb rd" transform="translate(704.5,491) rotate(-90)">e(A)</text><text class="nm" transform="translate(672.5,515.75) rotate(-90)">48</text><text class="vl" transform="translate(722,516.75) rotate(-90)">0.00056160</text><text class="th" transform="translate(734.5,491) rotate(-90)">Th<tspan class="sb" dy="3">21</tspan></text></g>
<g id="n40"><rect class="s" x="675" y="528.5" width="38" height="51.5"/><rect class="g" x="673.5" y="530" width="38" height="51.5"/><text class="lb rd" transform="translate(688,555.75) rotate(-90)">e(B)</text><text class="lb" transform="translate(704.5,555.75) rotate(-90)">e(A)</text><text class="nm" transform="translate(672.5,580.5) rotate(-90)">40</text><text class="vl" transform="translate(722,581.5) rotate(-90)">0.00056160</text><text class="th" transform="translate(734.5,555.75) rotate(-90)">Th<tspan class="sb" dy="3">17</tspan></text></g>
<g id="n37"><rect class="s" x="675" y="658" width="38" height="51.5"/><rect class="g" x="673.5" y="659.5" width="38" height="51.5"/><text class="lb rd" transform="translate(688,685.25) rotate(-90)">e(B)</text><text class="lb rd" transform="translate(704.5,685.25) rotate(-90)">e(A)</text><text class="nm" transform="translate(672.5,710) rotate(-90)">37</text><text class="vl" transform="translate(722,711) rotate(-90)">0.00046800</text><text class="th" transform="translate(734.5,685.25) rotate(-90)">Th<tspan class="sb" dy="3">14</tspan></text></g>
<g id="n26"><rect class="s" x="675" y="722.75" width="38" height="51.5"/><rect class="g" x="673.5" y="724.25" width="38" height="51.5"/><text class="lb" transform="translate(688,750) rotate(-90)">e(A)</text><text class="lb" transform="translate(704.5,750) rotate(-90)">e(B)</text><text class="nm" transform="translate(672.5,774.75) rotate(-90)">26</text><text class="vl" transform="translate(722,775.75) rotate(-90)">0.00067392</text><text class="th" transform="translate(734.5,750) rotate(-90)">Th<tspan class="sb" dy="3">11</tspan></text></g>
<g id="n23"><rect class="s" x="675" y="852.25" width="38" height="51.5"/><rect class="g" x="673.5" y="853.75" width="38" height="51.5"/><text class="lb" transform="translate(688,879.5) rotate(-90)">e(A)</text><text class="lb rd" transform="translate(704.5,879.5) rotate(-90)">e(B)</text><text class="nm" transform="translate(672.5,904.25) rotate(-90)">23</text><text class="vl" transform="translate(722,905.25) rotate(-90)">0.00056160</text><text class="th" transform="translate(734.5,879.5) rotate(-90)">Th<tspan class="sb" dy="3">8</tspan></text></g>
<g id="n15"><rect class="s" x="675" y="917" width="38" height="51.5"/><rect class="g" x="673.5" y="918.5" width="38" height="51.5"/><text class="lb rd" transform="translate(688,944.25) rotate(-90)">e(A)</text><text class="lb" transform="translate(704.5,944.25) rotate(-90)">e(B)</text><text class="nm" transform="translate(672.5,969) rotate(-90)">15</text><text class="vl" transform="translate(722,970) rotate(-90)">0.00056160</text><text class="th" transform="translate(734.5,944.25) rotate(-90)">Th<tspan class="sb" dy="3">4</tspan></text></g>
<g id="n12"><rect class="s" x="675" y="1046.5" width="38" height="51.5"/><rect class="g" x="673.5" y="1048" width="38" height="51.5"/><text class="lb rd" transform="translate(688,1073.75) rotate(-90)">e(A)</text><text class="lb rd" transform="translate(704.5,1073.75) rotate(-90)">e(B)</text><text class="nm" transform="translate(672.5,1098.5) rotate(-90)">12</text><text class="vl" transform="translate(722,1099.5) rotate(-90)">0.00046800</text><text class="th" transform="translate(734.5,1073.75) rotate(-90)">Th<tspan class="sb" dy="3">1</tspan></text></g>
<g id="n50"><rect class="s" x="753" y="366.63" width="38" height="51.5"/><rect class="g" x="751.5" y="368.13" width="38" height="51.5"/><text class="lb" transform="translate(773,393.88) rotate(-90)">e(B)</text><text class="nm" transform="translate(750.5,418.63) rotate(-90)">50</text><text class="vl" transform="translate(800,419.63) rotate(-90)">0.00036288</text><text class="th" transform="translate(812.5,393.88) rotate(-90)">Th<tspan class="sb" dy="3">23</tspan></text></g>
<g id="n49"><rect class="s" x="753" y="431.38" width="38" height="51.5"/><rect class="g" x="751.5" y="432.88" width="38" height="51.5"/><text class="lb" transform="translate(773,458.63) rotate(-90)">e(B)</text><text class="nm" transform="translate(750.5,483.38) rotate(-90)">49</text><text class="vl" transform="translate(800,484.38) rotate(-90)">0.00241920</text><text class="th" transform="translate(812.5,458.63) rotate(-90)">Th<tspan class="sb" dy="3">22</tspan></text></g>
<g id="n47"><rect class="s" x="753" y="496.13" width="38" height="51.5"/><rect class="g" x="751.5" y="497.63" width="38" height="51.5"/><text class="lb" transform="translate(773,523.38) rotate(-90)">e(B)</text><text class="nm" transform="translate(750.5,548.13) rotate(-90)">47</text><text class="vl" transform="translate(800,549.13) rotate(-90)">0.00030240</text><text class="th" transform="translate(812.5,523.38) rotate(-90)">Th<tspan class="sb" dy="3">20</tspan></text></g>
<g id="n39"><rect class="s" x="753" y="560.88" width="38" height="51.5"/><rect class="g" x="751.5" y="562.38" width="38" height="51.5"/><text class="lb rd" transform="translate(773,588.13) rotate(-90)">e(B)</text><text class="nm" transform="translate(750.5,612.88) rotate(-90)">39</text><text class="vl" transform="translate(800,613.88) rotate(-90)">0.00030240</text><text class="th" transform="translate(812.5,588.13) rotate(-90)">Th<tspan class="sb" dy="3">16</tspan></text></g>
<g id="n38"><rect class="s" x="753" y="625.63" width="38" height="51.5"/><rect class="g" x="751.5" y="627.13" width="38" height="51.5"/><text class="lb rd" transform="translate(773,652.88) rotate(-90)">e(B)</text><text class="nm" transform="translate(750.5,677.63) rotate(-90)">38</text><text class="vl" transform="translate(800,678.63) rotate(-90)">0.00201600</text><text class="th" transform="translate(812.5,652.88) rotate(-90)">Th<tspan class="sb" dy="3">15</tspan></text></g>
<g id="n36"><rect class="s" x="753" y="690.38" width="38" height="51.5"/><rect class="g" x="751.5" y="691.88" width="38" height="51.5"/><text class="lb rd" transform="translate(773,717.63) rotate(-90)">e(B)</text><text class="nm" transform="translate(750.5,742.38) rotate(-90)">36</text><text class="vl" transform="translate(800,743.38) rotate(-90)">0.00025200</text><text class="th" transform="translate(812.5,717.63) rotate(-90)">Th<tspan class="sb" dy="3">13</tspan></text></g>
<g id="n25"><rect class="s" x="753" y="755.13" width="38" height="51.5"/><rect class="g" x="751.5" y="756.63" width="38" height="51.5"/><text class="lb" transform="translate(773,782.38) rotate(-90)">e(A)</text><text class="nm" transform="translate(750.5,807.13) rotate(-90)">25</text><text class="vl" transform="translate(800,808.13) rotate(-90)">0.00036288</text><text class="th" transform="translate(812.5,782.38) rotate(-90)">Th<tspan class="sb" dy="3">10</tspan></text></g>
<g id="n24"><rect class="s" x="753" y="819.88" width="38" height="51.5"/><rect class="g" x="751.5" y="821.38" width="38" height="51.5"/><text class="lb" transform="translate(773,847.13) rotate(-90)">e(A)</text><text class="nm" transform="translate(750.5,871.88) rotate(-90)">24</text><text class="vl" transform="translate(800,872.88) rotate(-90)">0.00241920</text><text class="th" transform="translate(812.5,847.13) rotate(-90)">Th<tspan class="sb" dy="3">9</tspan></text></g>
<g id="n22"><rect class="s" x="753" y="884.63" width="38" height="51.5"/><rect class="g" x="751.5" y="886.13" width="38" height="51.5"/><text class="lb" transform="translate(773,911.88) rotate(-90)">e(A)</text><text class="nm" transform="translate(750.5,936.63) rotate(-90)">22</text><text class="vl" transform="translate(800,937.63) rotate(-90)">0.00030240</text><text class="th" transform="translate(812.5,911.88) rotate(-90)">Th<tspan class="sb" dy="3">7</tspan></text></g>
<g id="n14"><rect class="s" x="753" y="949.38" width="38" height="51.5"/><rect class="g" x="751.5" y="950.88" width="38" height="51.5"/><text class="lb rd" transform="translate(773,976.63) rotate(-90)">e(A)</text><text class="nm" transform="translate(750.5,1001.38) rotate(-90)">14</text><text class="vl" transform="translate(800,1002.38) rotate(-90)">0.00030240</text><text class="th" transform="translate(812.5,976.63) rotate(-90)">Th<tspan class="sb" dy="3">3</tspan></text></g>
<g id="n13"><rect class="s" x="753" y="1014.13" width="38" height="51.5"/><rect class="g" x="751.5" y="1015.63" width="38" height="51.5"/><text class="lb rd" transform="translate(773,1041.38) rotate(-90)">e(A)</text><text class="nm" transform="translate(750.5,1066.13) rotate(-90)">13</text><text class="vl" transform="translate(800,1067.13) rotate(-90)">0.00201600</text><text class="th" transform="translate(812.5,1041.38) rotate(-90)">Th<tspan class="sb" dy="3">2</tspan></text></g>
<g id="n11"><rect class="s" x="753" y="1078.88" width="38" height="51.5"/><rect class="g" x="751.5" y="1080.38" width="38" height="51.5"/><text class="lb rd" transform="translate(773,1106.13) rotate(-90)">e(A)</text><text class="nm" transform="translate(750.5,1130.88) rotate(-90)">11</text><text class="vl" transform="translate(800,1131.88) rotate(-90)">0.00025200</text><text class="th" transform="translate(812.5,1106.13) rotate(-90)">Th<tspan class="sb" dy="3">0</tspan></text></g>
</g>
</svg>
